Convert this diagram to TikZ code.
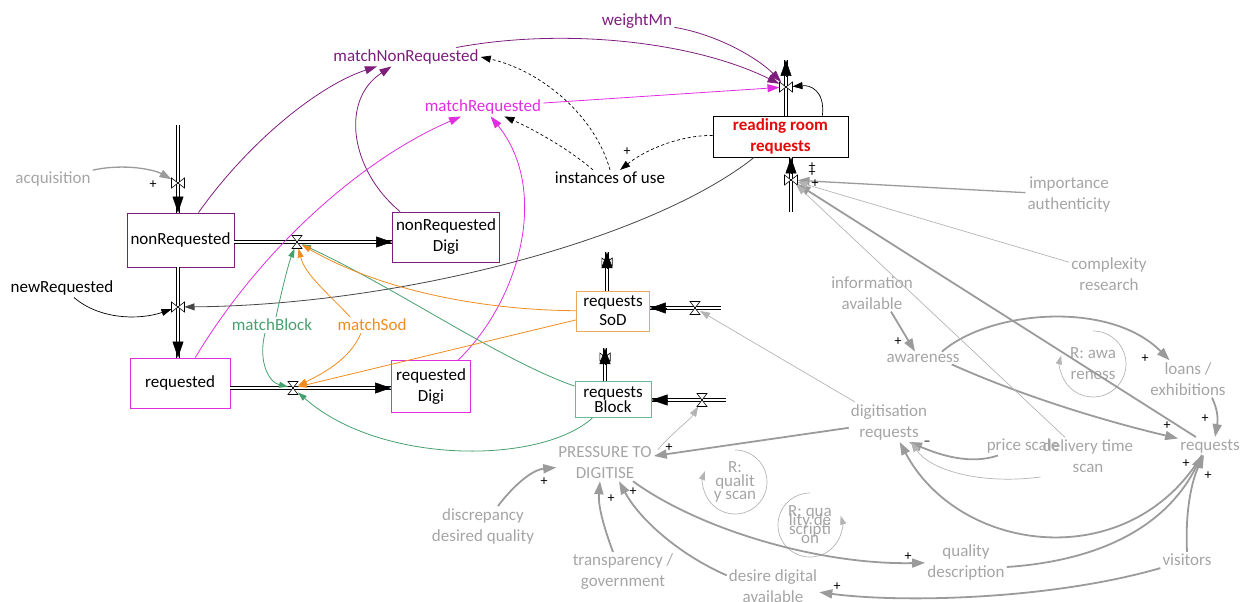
\documentclass[tikz,border=0pt]{standalone}
\usepackage{fontspec}
\setmainfont{Carlito}
\usetikzlibrary{arrows.meta,calc}

\definecolor{purp}{RGB}{125,30,125}
\definecolor{mag}{RGB}{225,45,225}
\definecolor{grn}{RGB}{70,160,110}
\definecolor{grnbox}{RGB}{105,185,150}
\definecolor{orng}{RGB}{240,140,30}
\definecolor{orngbox}{RGB}{235,170,90}
\definecolor{gtext}{RGB}{165,165,165}
\definecolor{glink}{RGB}{155,155,155}
\definecolor{glight}{RGB}{180,180,180}
\definecolor{rrred}{RGB}{230,10,10}
\definecolor{dgray}{RGB}{70,70,70}

\begin{document}
\lineskiplimit=-60pt
\begin{tikzpicture}[x=1pt,y=-1pt,
  every node/.style={font=\fontsize{17}{21}\selectfont, inner sep=2pt},
  stock/.style={draw, fill=white, line width=0.9pt, align=center, inner sep=0pt},
  var/.style={align=center, text=gtext},
  tight/.style={font=\fontsize{17}{#1}\selectfont},
  pl/.style={font=\fontsize{14}{14}\selectfont, text=black, inner sep=0pt},
  hvalve/.style={shape=rectangle, inner sep=0pt, outer sep=0pt, minimum width=10pt, minimum height=13pt},
  vvalve/.style={shape=rectangle, inner sep=0pt, outer sep=0pt, minimum width=13pt, minimum height=10pt},
  hourglass/.pic={\draw[fill=white, line width=0.6pt] (-5,-6.5) -- (5,-6.5) -- (-5,6.5) -- (5,6.5) -- cycle;},
  bowtie/.pic={\draw[fill=white, line width=0.6pt] (-6.5,-5) -- (-6.5,5) -- (6.5,-5) -- (6.5,5) -- cycle;},
  pipe/.style={draw=black, line width=0.7pt, double=white, double distance=2.2pt},
  flowhead/.style={draw=black, line width=0.5pt, -{Triangle[length=16pt,width=11pt]}},
  lkp/.style={draw=purp, line width=0.8pt, -{Triangle[length=12pt,width=8pt]}},
  lkm/.style={draw=mag, line width=0.8pt, -{Triangle[length=12pt,width=8pt]}},
  lkg/.style={draw=grn, line width=0.8pt, -{Triangle[length=9pt,width=6pt]}},
  lko/.style={draw=orng, line width=0.8pt, -{Triangle[length=9pt,width=6pt]}},
  lkb/.style={draw=black, line width=0.7pt, -{Triangle[length=10pt,width=7pt]}},
  lkd/.style={draw=dgray, line width=0.8pt, -{Triangle[length=10pt,width=7pt]}},
  dashlk/.style={draw=black, line width=0.7pt, dash pattern=on 3pt off 2.5pt, -{Triangle[length=10pt,width=7pt]}},
  glk/.style={draw=glink, line width=1.8pt, -{Triangle[length=13pt,width=9pt]}},
  glm/.style={draw=glink, line width=1.3pt, -{Triangle[length=12pt,width=8pt]}},
  glt/.style={draw=glight, line width=0.7pt, -{Triangle[length=10pt,width=7pt]}},
  loopline/.style={draw=glight, line width=0.7pt, -{Triangle[length=9pt,width=6pt]}}
]
\useasboundingbox (0,0) rectangle (1251,602);

% ---------- stocks ----------
\node[stock, draw=purp, minimum width=107pt, minimum height=54pt] (nonReq) at (180.5,240) {nonRequested};
\node[stock, draw=purp, minimum width=107pt, minimum height=50pt] (nonReqDigi) at (446,237) {nonRequested\\Digi};
\node[stock, draw=mag, minimum width=100pt, minimum height=50pt] (req) at (180,383) {requested};
\node[stock, draw=mag, minimum width=79pt, minimum height=52pt] (reqDigi) at (431,386.5) {requested\\Digi};
\node[stock, draw=orngbox, minimum width=73pt, minimum height=40pt, tight=19] (sod) at (613,311) {requests\\SoD};
\node[stock, draw=grnbox, line width=1pt, minimum width=76pt, minimum height=36pt, tight=15.5] (block) at (613,399.5) {requests\\Block};
\node[stock, draw=black, minimum width=135pt, minimum height=41pt, text=rrred, font=\bfseries\fontsize{17}{21}\selectfont] (rr) at (780.5,136.5) {reading room\\requests};

% ---------- auxiliaries ----------
\node[var] (acq) at (53,179) {acquisition};
\node[var, text=black] (newReq) at (62,288) {newRequested};
\node[var, text=purp] (weightMn) at (637,21) {weightMn};
\node[var, text=purp] (matchNR) at (406,57) {matchNonRequested};
\node[var, text=mag] (matchR) at (483,107) {matchRequested};
\node[var, text=black] (inst) at (610,178) {instances of use};
\node[var, text=grn] (mBlock) at (272,325) {matchBlock};
\node[var, text=orng] (mSod) at (372,325) {matchSod};
\node[var] (impAuth) at (1069,195) {importance\\authenticity};
\node[var] (complex) at (1109,274) {complexity\\research};
\node[var] (info) at (872,293) {information\\available};
\node[var] (aware) at (923,358) {awareness};
\node[var] (loans) at (1188,379) {loans /\\exhibitions};
\node[var] (digReq) at (889,422) {digitisation\\requests};
\node[var] (price) at (1023,446) {price scale};
\node[var] (delivery) at (1088,456) {delivery time\\scan};
\node[var] (requests) at (1210,446) {requests};
\node[var] (pressure) at (605,463) {PRESSURE TO\\DIGITISE};
\node[var] (discrep) at (483,526) {discrepancy\\desired quality};
\node[var] (transp) at (623,572) {transparency /\\government};
\node[var] (desire) at (773,586) {desire digital\\available};
\node[var] (qualDesc) at (966,562) {quality\\description};
\node[var] (visitors) at (1187,560) {visitors};

% ---------- loop markers ----------
\node[var] (loopAw) at (1093,364) {R: awa\\reness};
\node[var, tight=13.5] (loopQS) at (735,482) {R:\\qualit\\y scan};
\node[var, tight=9] (loopQD) at (810,525) {R: qua\\lity de\\scripti\\on};
\draw[loopline] ($(loopAw)+(0,-33)$) arc[start angle=270, end angle=555, radius=33];
\draw[loopline] ($(loopQS)+(0,-32)$) arc[start angle=270, end angle=560, radius=32];
\draw[loopline] ($(loopQD)+(0,-32)$) arc[start angle=270, end angle=-17, radius=32];

% ---------- valves and pipes ----------
\node[vvalve] (vAcq) at (178,183) {};
\node[hvalve] (vNR) at (297,242) {};
\node[vvalve] (vNew) at (178,307) {};
\node[hvalve] (vReq) at (293,388) {};
\node[vvalve] (vSodOut) at (607,262) {};
\node[vvalve] (vBlockOut) at (605,357) {};
\node[hvalve] (vSodIn) at (695,308) {};
\node[hvalve] (vBlockIn) at (702,400) {};
\node[vvalve] (vRROut) at (786,87) {};
\node[vvalve] (vRRIn) at (791,180) {};

\coordinate (acqSrc) at (178,125);
\coordinate (acqEnd) at (nonReq.north -| vAcq);
\coordinate (nrOut) at (nonReq.east |- vNR);
\coordinate (nrdIn) at (nonReqDigi.west |- vNR);
\coordinate (nrDown) at (nonReq.south -| vNew);
\coordinate (reqIn) at (req.north -| vNew);
\coordinate (reqOut) at (req.east |- vReq);
\coordinate (rdIn) at (reqDigi.west |- vReq);
\coordinate (sodTop) at (607,252);
\coordinate (sodUp) at (sod.north -| sodTop);
\coordinate (blockTop) at (605,348);
\coordinate (blockUp) at (block.north -| blockTop);
\coordinate (sodSrc) at (721,308);
\coordinate (sodIn) at (sod.east |- sodSrc);
\coordinate (blockSrc) at (726,400);
\coordinate (blockIn) at (block.east |- blockSrc);
\coordinate (rrTop) at (786,60);
\coordinate (rrUp) at (rr.north -| rrTop);
\coordinate (rrSrc) at (791,212);
\coordinate (rrIn) at (rr.south -| rrSrc);

\draw[pipe] (acqSrc) -- (acqEnd);
\draw[pipe] (nrOut) -- (nrdIn);
\draw[pipe] (nrDown) -- (reqIn);
\draw[pipe] (reqOut) -- (rdIn);
\draw[pipe] (sodUp) -- (sodTop);
\draw[pipe] (blockUp) -- (blockTop);
\draw[pipe] (sodSrc) -- (sodIn);
\draw[pipe] (blockSrc) -- (blockIn);
\draw[pipe] (rrUp) -- (rrTop);
\draw[pipe] (rrSrc) -- (rrIn);

\pic at (vAcq) {bowtie};
\pic at (vNR) {hourglass};
\pic at (vNew) {bowtie};
\pic at (vReq) {hourglass};
\pic[scale=0.8] at (vSodOut) {bowtie};
\pic[scale=0.8] at (vBlockOut) {bowtie};
\pic at (vSodIn) {hourglass};
\pic at (vBlockIn) {hourglass};
\pic at (vRROut) {bowtie};
\pic at (vRRIn) {bowtie};

\draw[flowhead] ($(acqEnd)!16pt!(vAcq)$) -- (acqEnd);
\draw[flowhead] ($(nrdIn)!16pt!(vNR)$) -- (nrdIn);
\draw[flowhead] ($(reqIn)!16pt!(vNew)$) -- (reqIn);
\draw[flowhead] ($(rdIn)!16pt!(vReq)$) -- (rdIn);
\draw[flowhead] ($(sodTop)!16pt!(sodUp)$) -- (sodTop);
\draw[flowhead] ($(blockTop)!16pt!(blockUp)$) -- (blockTop);
\draw[flowhead] ($(sodIn)!16pt!(vSodIn)$) -- (sodIn);
\draw[flowhead] ($(blockIn)!16pt!(vBlockIn)$) -- (blockIn);
\draw[flowhead] ($(rrTop)!16pt!(rrUp)$) -- (rrTop);
\draw[flowhead] ($(rrIn)!16pt!(vRRIn)$) -- (rrIn);

% ---------- matching links ----------
\draw[lkp] ([xshift=18pt]nonReq.north) .. controls (250,140) and (320,85) .. (matchNR);
\draw[lkp] ([xshift=8pt]nonReqDigi.north west) .. controls (350,170) and (340,100) .. (matchNR);
\draw[lkp] (matchNR) .. controls (560,28) and (690,40) .. (vRROut);
\draw[lkp] (weightMn) .. controls (720,35) and (760,60) .. (vRROut);

\draw[lkm] (req) .. controls (260,250) and (360,160) .. (matchR);
\draw[lkm] (reqDigi) .. controls (520,300) and (550,190) .. (matchR);
\draw[lkm] (matchR) -- (vRROut);

\draw[dashlk] (inst.north) .. controls (595,115) and (540,70) .. (matchNR.east);
\draw[dashlk] ([xshift=-17pt]inst.north) .. controls (570,150) and (535,130) .. (matchR);
\draw[dashlk] (rr) .. controls (680,135) and (645,150) .. (inst);

\draw[lkb] ([xshift=-26pt]rr.north east) .. controls (825,90) and (810,85) .. (vRROut);
\draw[lkd] (rr) .. controls (650,240) and (400,305) .. (vNew);
\draw[lkb] ([xshift=12pt]newReq.south) .. controls (100,320) and (140,320) .. (vNew);

\draw[lkg] ([xshift=4pt]mBlock.north) .. controls (282,290) and (288,265) .. (vNR);
\draw[lkg] ([xshift=-7pt]mBlock.south) .. controls (258,360) and (268,382) .. (vReq);
\draw[lkg] (block) .. controls (500,360) and (400,290) .. (vNR);
\draw[lkg] (block) .. controls (540,465) and (380,465) .. (vReq);

\draw[lko] ([xshift=-22pt]mSod.north) .. controls (330,295) and (305,275) .. (vNR);
\draw[lko] ([xshift=-11pt]mSod.south) .. controls (350,360) and (320,375) .. (vReq);
\draw[lko] (sod) .. controls (480,310) and (380,290) .. (vNR);
\draw[lko] (sod) -- (vReq);

% ---------- causal links ----------
\draw[glm] (acq) .. controls (125,163) and (155,170) .. (vAcq);
\draw[glt] ($(pressure.north east)+(4,5)$) .. controls (675,430) and (690,420) .. (vBlockIn);
\draw[glt] (digReq) -- (vSodIn);
\draw[glk] (digReq) -- (pressure);
\draw[glk] ([xshift=15pt]discrep.north) .. controls (510,490) and (530,470) .. (pressure);
\draw[glk] ([xshift=-10pt]transp.north) .. controls (603,525) and (598,505) .. ([xshift=-5pt]pressure.south);
\draw[glk] ($(desire.north west)+(0,8)$) .. controls (680,555) and (640,520) .. ([xshift=14pt]pressure.south);
\draw[glk] ([xshift=28pt]pressure.south) .. controls (700,530) and (820,565) .. (qualDesc);
\draw[glk] ($(qualDesc.east)+(0,5)$) .. controls (1110,560) and (1170,520) .. ([xshift=-8pt]requests.south);
\draw[glk] (visitors.south west) .. controls (1050,600) and (900,603) .. (desire);
\draw[glk] (visitors.north) .. controls (1185,510) and (1192,480) .. ([xshift=-6pt]requests.south);
\draw[glk] ([xshift=-8pt]requests.south) .. controls (1130,575) and (960,555) .. (digReq);
\draw[glk] ([xshift=-25pt]price.south) .. controls (970,465) and (940,455) .. ([xshift=20pt]digReq.south);
\draw[glt] ($(delivery.west)+(0,21)$) .. controls (980,485) and (930,470) .. ([xshift=22pt]digReq.south);
\draw[glk] ([xshift=19pt]info.south) -- ([xshift=-8pt]aware.north);
\draw[glk] ([xshift=19pt]aware.north) .. controls (990,310) and (1110,300) .. (loans);
\draw[glk] ($(aware.south east)+(-10,0)$) .. controls (1020,395) and (1100,420) .. (requests);
\draw[glk] ([xshift=24pt]loans.south) .. controls (1218,410) and (1218,420) .. ([xshift=5pt]requests.north);
\draw[glk] (requests) -- (vRRIn);
\draw[glt] ([xshift=-23pt]delivery.north) -- (vRRIn);
\draw[glm] (impAuth) -- (vRRIn);
\draw[glt] (complex) -- (vRRIn);

% ---------- polarity signs ----------
\node[pl] (s1) at (153,185) {+};
\node[pl] (s2) at (627,152) {+};
\node[pl] (s3) at (812,167) {+};
\node[pl] (s4) at (812,173) {+};
\node[pl] (s5) at (815,184) {+};
\node[pl] (s6) at (669,448) {+};
\node[pl] (s7) at (544,482) {+};
\node[pl] (s8) at (611,499) {+};
\node[pl] (s9) at (633,492) {+};
\node[pl] (s10) at (908,557) {+};
\node[pl] (s11) at (837,587) {+};
\node[pl] (s12) at (898,342) {+};
\node[pl] (s13) at (1145,359) {+};
\node[pl] (s14) at (1167,426) {+};
\node[pl] (s15) at (1205,419) {+};
\node[pl] (s16) at (1186,464) {+};
\node[pl] (s17) at (1208,476) {+};
\node[pl] (s18) at (927,443) {–};
\end{tikzpicture}
\end{document}
